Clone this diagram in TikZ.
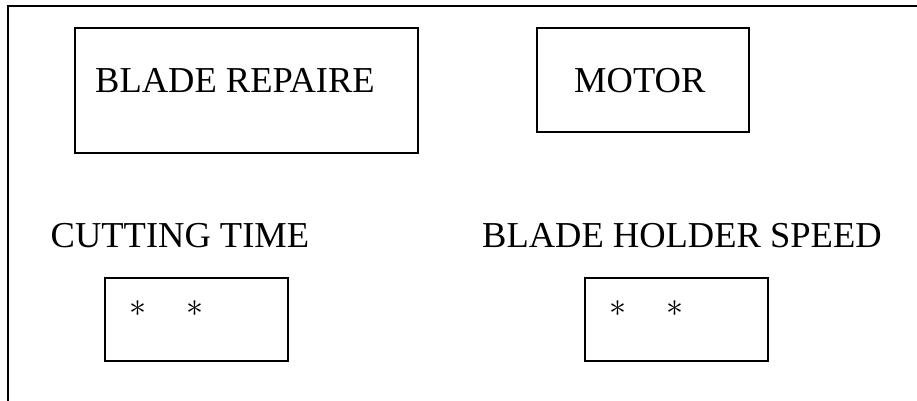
\documentclass[tikz,border=0pt]{standalone}
\usepackage{fontspec}
\setmainfont{Liberation Serif}
\begin{document}
\begin{tikzpicture}[x=1pt,y=-1pt,
  boxline/.style={draw=black,line width=2pt},
  lbl/.style={inner sep=0pt,anchor=base west,font=\fontsize{36.5}{40}\selectfont},
  star/.style={inner sep=0pt}]
\useasboundingbox (0,0) rectangle (917,401);
% outer frame
\coordinate (ftop) at (917,6);
\coordinate (fcorner) at (7.5,6);
\coordinate (fbottom) at (7.5,401);
\draw[boxline] (ftop) -- (fcorner) -- (fbottom);
% boxes
\node[boxline,minimum width=343pt,minimum height=124pt,anchor=north west,inner sep=0pt] (repair) at (73.5,27.5) {};
\node[lbl] (repairt) at (95,92.5) {BLADE REPAIRE};
\node[boxline,minimum width=212pt,minimum height=103pt,anchor=north west,inner sep=0pt] (motor) at (535.5,27.5) {};
\node[lbl] (motort) at (574,92.5) {MOTOR};
\node[lbl] (cutt) at (50.5,247.3) {CUTTING TIME};
\node[lbl] (bhst) at (482,247.3) {BLADE HOLDER SPEED};
\node[boxline,minimum width=183pt,minimum height=83pt,anchor=north west,inner sep=0pt] (cutbox) at (103.5,277) {};
\node[boxline,minimum width=183pt,minimum height=83pt,anchor=north west,inner sep=0pt] (bhsbox) at (583.5,277) {};
\node[star] (s1) at (138,309) {\scalebox{3.4}{$\ast$}};
\node[star] (s2) at (195,309) {\scalebox{3.4}{$\ast$}};
\node[star] (s3) at (618,309) {\scalebox{3.4}{$\ast$}};
\node[star] (s4) at (675,309) {\scalebox{3.4}{$\ast$}};
\end{tikzpicture}
\end{document}
